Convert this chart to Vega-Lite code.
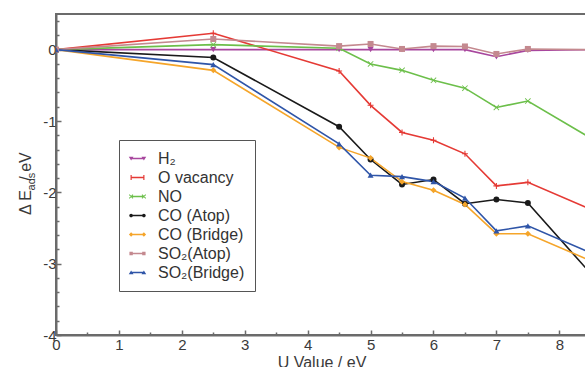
{
  "$schema": "https://vega.github.io/schema/vega-lite/v6.json",
  "width": 531,
  "height": 321,
  "autosize": {"type": "none"},
  "padding": {"left": 56, "top": 14, "right": 0, "bottom": 32},
  "config": {
    "font": "Liberation Sans",
    "view": {"stroke": "#6b6b6b", "strokeWidth": 2},
    "axis": {
      "domainColor": "#6b6b6b",
      "domainWidth": 2,
      "tickColor": "#6b6b6b",
      "tickWidth": 1.5,
      "grid": false,
      "labelColor": "#3a3a3a",
      "titleColor": "#3a3a3a",
      "labelFontSize": 15,
      "titleFontSize": 16,
      "titleFontWeight": "normal",
      "labelFlush": false,
      "labelOverlap": false
    }
  },
  "data": {
    "values": [
      {"s": "H₂", "u": 0, "e": 0}, {"s": "H₂", "u": 2.5, "e": 0}, {"s": "H₂", "u": 4.5, "e": 0}, {"s": "H₂", "u": 5, "e": 0}, {"s": "H₂", "u": 5.5, "e": 0}, {"s": "H₂", "u": 6, "e": 0}, {"s": "H₂", "u": 6.5, "e": 0}, {"s": "H₂", "u": 7, "e": -0.1}, {"s": "H₂", "u": 7.5, "e": -0.01}, {"s": "H₂", "u": 8.5, "e": 0},
      {"s": "O vacancy", "u": 0, "e": 0}, {"s": "O vacancy", "u": 2.5, "e": 0.23}, {"s": "O vacancy", "u": 4.5, "e": -0.3}, {"s": "O vacancy", "u": 5, "e": -0.78}, {"s": "O vacancy", "u": 5.5, "e": -1.16}, {"s": "O vacancy", "u": 6, "e": -1.27}, {"s": "O vacancy", "u": 6.5, "e": -1.46}, {"s": "O vacancy", "u": 7, "e": -1.91}, {"s": "O vacancy", "u": 7.5, "e": -1.86}, {"s": "O vacancy", "u": 8.5, "e": -2.24},
      {"s": "NO", "u": 0, "e": 0}, {"s": "NO", "u": 2.5, "e": 0.07}, {"s": "NO", "u": 4.5, "e": 0.02}, {"s": "NO", "u": 5, "e": -0.2}, {"s": "NO", "u": 5.5, "e": -0.29}, {"s": "NO", "u": 6, "e": -0.43}, {"s": "NO", "u": 6.5, "e": -0.54}, {"s": "NO", "u": 7, "e": -0.81}, {"s": "NO", "u": 7.5, "e": -0.72}, {"s": "NO", "u": 8.5, "e": -1.24},
      {"s": "CO (Atop)", "u": 0, "e": 0}, {"s": "CO (Atop)", "u": 2.5, "e": -0.11}, {"s": "CO (Atop)", "u": 4.5, "e": -1.08}, {"s": "CO (Atop)", "u": 5, "e": -1.54}, {"s": "CO (Atop)", "u": 5.5, "e": -1.89}, {"s": "CO (Atop)", "u": 6, "e": -1.82}, {"s": "CO (Atop)", "u": 6.5, "e": -2.16}, {"s": "CO (Atop)", "u": 7, "e": -2.1}, {"s": "CO (Atop)", "u": 7.5, "e": -2.15}, {"s": "CO (Atop)", "u": 8.5, "e": -3.14},
      {"s": "CO (Bridge)", "u": 0, "e": 0}, {"s": "CO (Bridge)", "u": 2.5, "e": -0.29}, {"s": "CO (Bridge)", "u": 4.5, "e": -1.37}, {"s": "CO (Bridge)", "u": 5, "e": -1.52}, {"s": "CO (Bridge)", "u": 5.5, "e": -1.85}, {"s": "CO (Bridge)", "u": 6, "e": -1.97}, {"s": "CO (Bridge)", "u": 6.5, "e": -2.17}, {"s": "CO (Bridge)", "u": 7, "e": -2.58}, {"s": "CO (Bridge)", "u": 7.5, "e": -2.58}, {"s": "CO (Bridge)", "u": 8.5, "e": -2.96},
      {"s": "SO₂(Atop)", "u": 0, "e": 0}, {"s": "SO₂(Atop)", "u": 2.5, "e": 0.15}, {"s": "SO₂(Atop)", "u": 4.5, "e": 0.05}, {"s": "SO₂(Atop)", "u": 5, "e": 0.08}, {"s": "SO₂(Atop)", "u": 5.5, "e": 0.01}, {"s": "SO₂(Atop)", "u": 6, "e": 0.05}, {"s": "SO₂(Atop)", "u": 6.5, "e": 0.045}, {"s": "SO₂(Atop)", "u": 7, "e": -0.06}, {"s": "SO₂(Atop)", "u": 7.5, "e": 0.01}, {"s": "SO₂(Atop)", "u": 8.5, "e": 0},
      {"s": "SO₂(Bridge)", "u": 0, "e": 0}, {"s": "SO₂(Bridge)", "u": 2.5, "e": -0.21}, {"s": "SO₂(Bridge)", "u": 4.5, "e": -1.32}, {"s": "SO₂(Bridge)", "u": 5, "e": -1.76}, {"s": "SO₂(Bridge)", "u": 5.5, "e": -1.78}, {"s": "SO₂(Bridge)", "u": 6, "e": -1.85}, {"s": "SO₂(Bridge)", "u": 6.5, "e": -2.08}, {"s": "SO₂(Bridge)", "u": 7, "e": -2.54}, {"s": "SO₂(Bridge)", "u": 7.5, "e": -2.47}, {"s": "SO₂(Bridge)", "u": 8.5, "e": -2.85}
    ]
  },
  "encoding": {
    "x": {
      "field": "u",
      "type": "quantitative",
      "scale": {"domain": [0, 8.44], "nice": false, "zero": false},
      "axis": {
        "title": "U Value / eV",
        "values": [0, 0.5, 1, 1.5, 2, 2.5, 3, 3.5, 4, 4.5, 5, 5.5, 6, 6.5, 7, 7.5, 8],
        "labelExpr": "datum.value % 1 === 0 ? datum.value + '' : ''",
        "tickSize": {"condition": {"test": "datum.value % 1 === 0", "value": -5}, "value": -3},
        "labelPadding": 7,
        "titlePadding": 0
      }
    }
  },
  "layer": [
    {
      "mark": {"type": "line", "clip": true, "strokeWidth": 1.6},
      "encoding": {
        "y": {
          "field": "e",
          "type": "quantitative",
          "scale": {"domain": [-4, 0.5], "nice": false, "zero": false},
          "axis": {
            "orient": "left",
            "title": "Δ E",
            "titleX": -26,
            "titleY": 188,
            "titleAngle": 270,
            "titleAlign": "center",
            "titleBaseline": "alphabetic",
            "values": [-4, -3.8, -3.6, -3.4, -3.2, -3, -2.8, -2.6, -2.4, -2.2, -2, -1.8, -1.6, -1.4, -1.2, -1, -0.8, -0.6, -0.4, -0.2, 0, 0.2, 0.4],
            "labelExpr": "abs(datum.value - round(datum.value)) < 0.001 ? round(datum.value) + '' : ''",
            "tickSize": {"condition": {"test": "abs(datum.value - round(datum.value)) < 0.001", "value": -5}, "value": -3},
            "labelPadding": 5
          }
        },
        "color": {
          "field": "s",
          "type": "nominal",
          "legend": null,
          "scale": {
            "domain": ["H₂", "O vacancy", "NO", "CO (Atop)", "CO (Bridge)", "SO₂(Atop)", "SO₂(Bridge)"],
            "range": ["#a8479e", "#e53a35", "#6cbf4a", "#1a1a1a", "#f5a52a", "#c4898f", "#2f55a8"]
          }
        }
      }
    },
    {
      "mark": {"type": "point", "clip": true, "filled": true, "size": 36, "opacity": 1},
      "encoding": {
        "y": {
          "field": "e",
          "type": "quantitative",
          "axis": {
            "orient": "left",
            "title": "ads",
            "titleFontSize": 11,
            "titleX": -22,
            "titleY": 167,
            "titleAngle": 270,
            "titleAlign": "center",
            "titleBaseline": "alphabetic",
            "domain": false,
            "ticks": false,
            "labels": false
          }
        },
        "color": {"field": "s", "type": "nominal", "legend": null},
        "shape": {
          "field": "s",
          "type": "nominal",
          "legend": null,
          "scale": {
            "domain": ["H₂", "O vacancy", "NO", "CO (Atop)", "CO (Bridge)", "SO₂(Atop)", "SO₂(Bridge)"],
            "range": [
              "triangle-down",
              "M-1,-0.18H-0.18V-1H0.18V-0.18H1V0.18H0.18V1H-0.18V0.18H-1Z",
              "M-1,-0.8L-0.8,-1L1,0.8L0.8,1Z M0.8,-1L1,-0.8L-0.8,1L-1,0.8Z",
              "circle",
              "diamond",
              "square",
              "triangle-up"
            ]
          }
        }
      }
    },
    {
      "mark": {"type": "point", "filled": true, "opacity": 0},
      "encoding": {
        "y": {
          "field": "e",
          "type": "quantitative",
          "axis": {
            "orient": "left",
            "title": "/ eV",
            "titleX": -26,
            "titleY": 152,
            "titleAngle": 270,
            "titleAlign": "center",
            "titleBaseline": "alphabetic",
            "domain": false,
            "ticks": false,
            "labels": false
          }
        },
        "fill": {
          "field": "s",
          "type": "nominal",
          "scale": {
            "domain": ["H₂", "O vacancy", "NO", "CO (Atop)", "CO (Bridge)", "SO₂(Atop)", "SO₂(Bridge)"],
            "range": ["#a8479e", "#e53a35", "#6cbf4a", "#1a1a1a", "#f5a52a", "#c4898f", "#2f55a8"]
          },
          "legend": {
            "title": null,
            "orient": "none",
            "legendX": 63,
            "legendY": 126,
            "strokeColor": "#555555",
            "padding": 10,
            "labelFontSize": 16,
            "labelColor": "#333333",
            "labelFont": "Liberation Sans",
            "symbolSize": 289,
            "symbolStrokeWidth": 0,
            "symbolOpacity": 1,
            "labelOffset": 12,
            "rowPadding": 2
          }
        },
        "shape": {
          "field": "s",
          "type": "nominal",
          "scale": {
            "domain": ["H₂", "O vacancy", "NO", "CO (Atop)", "CO (Bridge)", "SO₂(Atop)", "SO₂(Bridge)"],
            "range": [
              "M-0.75,-0.09H0.75V0.09H-0.75Z M-1.03,-0.22H-0.47L-0.75,0.24Z M0.47,-0.22H1.03L0.75,0.24Z",
              "M-0.75,-0.09H0.75V0.09H-0.75Z M-0.82,-0.28H-0.68V0.28H-0.82Z M0.68,-0.28H0.82V0.28H0.68Z",
              "M-0.75,-0.09H0.75V0.09H-0.75Z M-1.01,-0.18L-0.93,-0.26L-0.49,0.18L-0.57,0.26Z M-0.57,-0.26L-0.49,-0.18L-0.93,0.26L-1.01,0.18Z M0.49,-0.18L0.57,-0.26L1.01,0.18L0.93,0.26Z M0.93,-0.26L1.01,-0.18L0.57,0.26L0.49,0.18Z",
              "M-0.75,-0.09H0.75V0.09H-0.75Z M-0.97,0A0.22,0.22 0 1,1 -0.53,0A0.22,0.22 0 1,1 -0.97,0Z M0.53,0A0.22,0.22 0 1,1 0.97,0A0.22,0.22 0 1,1 0.53,0Z",
              "M-0.75,-0.09H0.75V0.09H-0.75Z M-0.75,-0.26L-0.49,0L-0.75,0.26L-1.01,0Z M0.75,-0.26L1.01,0L0.75,0.26L0.49,0Z",
              "M-0.75,-0.09H0.75V0.09H-0.75Z M-0.95,-0.2H-0.55V0.2H-0.95Z M0.55,-0.2H0.95V0.2H0.55Z",
              "M-0.75,-0.09H0.75V0.09H-0.75Z M-0.47,0.22H-1.03L-0.75,-0.24Z M1.03,0.22H0.47L0.75,-0.24Z"
            ]
          },
          "legend": {
            "title": null,
            "orient": "none",
            "legendX": 63,
            "legendY": 126,
            "strokeColor": "#555555",
            "padding": 10,
            "labelFontSize": 16,
            "labelColor": "#333333",
            "labelFont": "Liberation Sans",
            "symbolSize": 289,
            "symbolStrokeWidth": 0,
            "symbolOpacity": 1,
            "labelOffset": 12,
            "rowPadding": 2
          }
        }
      }
    }
  ],
  "resolve": {"scale": {"shape": "independent", "fill": "independent"}, "axis": {"y": "independent"}}
}
